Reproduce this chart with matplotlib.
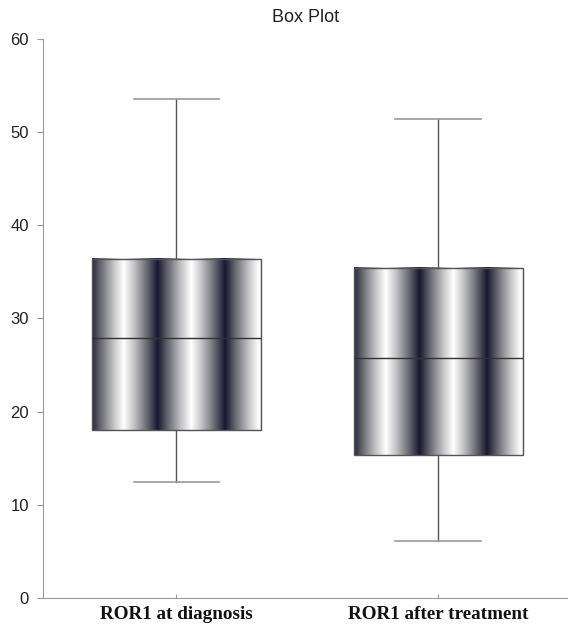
import matplotlib
matplotlib.use('Agg')
import matplotlib.pyplot as plt
from matplotlib.colors import LinearSegmentedColormap
import numpy as np

# values
groups = ['ROR1 at diagnosis', 'ROR1 after treatment']
whisker_low = [12.4, 6.1]
q1 = [18.0, 15.3]
median = [27.9, 25.8]
q3 = [36.4, 35.4]
whisker_high = [53.6, 51.4]
yticks = [0, 10, 20, 30, 40, 50, 60]

positions = [1, 2]
box_width = 0.645

fig = plt.figure(figsize=(5.68, 6.30), dpi=100)
ax = fig.add_axes([0.0757, 0.0508, 0.9243, 0.8873])

stats = []
for i, name in enumerate(groups):
    stats.append(dict(label=name, whislo=whisker_low[i], q1=q1[i],
                      med=median[i], q3=q3[i], whishi=whisker_high[i],
                      fliers=[]))

ax.bxp(stats, positions=positions, widths=box_width, showfliers=False,
       patch_artist=True,
       boxprops=dict(facecolor='none', edgecolor='#555555', linewidth=1.0),
       medianprops=dict(color='#333333', linewidth=1.0),
       whiskerprops=dict(color='#555555', linewidth=1.0),
       capprops=dict(color='#999999', linewidth=1.2),
       capwidths=0.325, zorder=3)

# cylinder-like shading inside each box: soft triangular bands
shade = LinearSegmentedColormap.from_list(
    'shade', [(0.0, '#1a1830'), (0.3, '#66666f'), (0.7, '#c4c4c6'),
              (1.0, '#ffffff')])
t = np.linspace(0, 1, 400)
phase = (t / 0.4 + 0.03) % 1.0
band = 1 - np.abs(2 * phase - 1)
band = band[np.newaxis, :]
for i, p in enumerate(positions):
    ax.imshow(band, cmap=shade, vmin=0, vmax=1, aspect='auto',
              interpolation='bilinear', zorder=2,
              extent=(p - box_width / 2, p + box_width / 2, q1[i], q3[i]))

ax.set_xlim(0.492, 2.496)
ax.set_ylim(0, 60)
ax.set_yticks(yticks)
ax.set_xticks(positions)
ax.set_xticklabels(groups, family='Liberation Serif', fontweight='bold',
                   fontsize=13.8, color='#111111')
for lab in ax.get_yticklabels():
    lab.set_family('Liberation Sans')
    lab.set_fontsize(12)
    lab.set_color('#222222')

ax.spines['top'].set_visible(False)
ax.spines['right'].set_visible(False)
ax.spines['left'].set_color('#999999')
ax.spines['bottom'].set_color('#999999')
ax.tick_params(axis='y', direction='out', length=4, color='#999999', pad=6)
ax.tick_params(axis='x', direction='in', length=3, color='#999999', pad=6)

ax.set_title('Box Plot', family='Liberation Sans', fontsize=13,
             color='#222222', pad=12)

fig.savefig('out.png', dpi=100)
